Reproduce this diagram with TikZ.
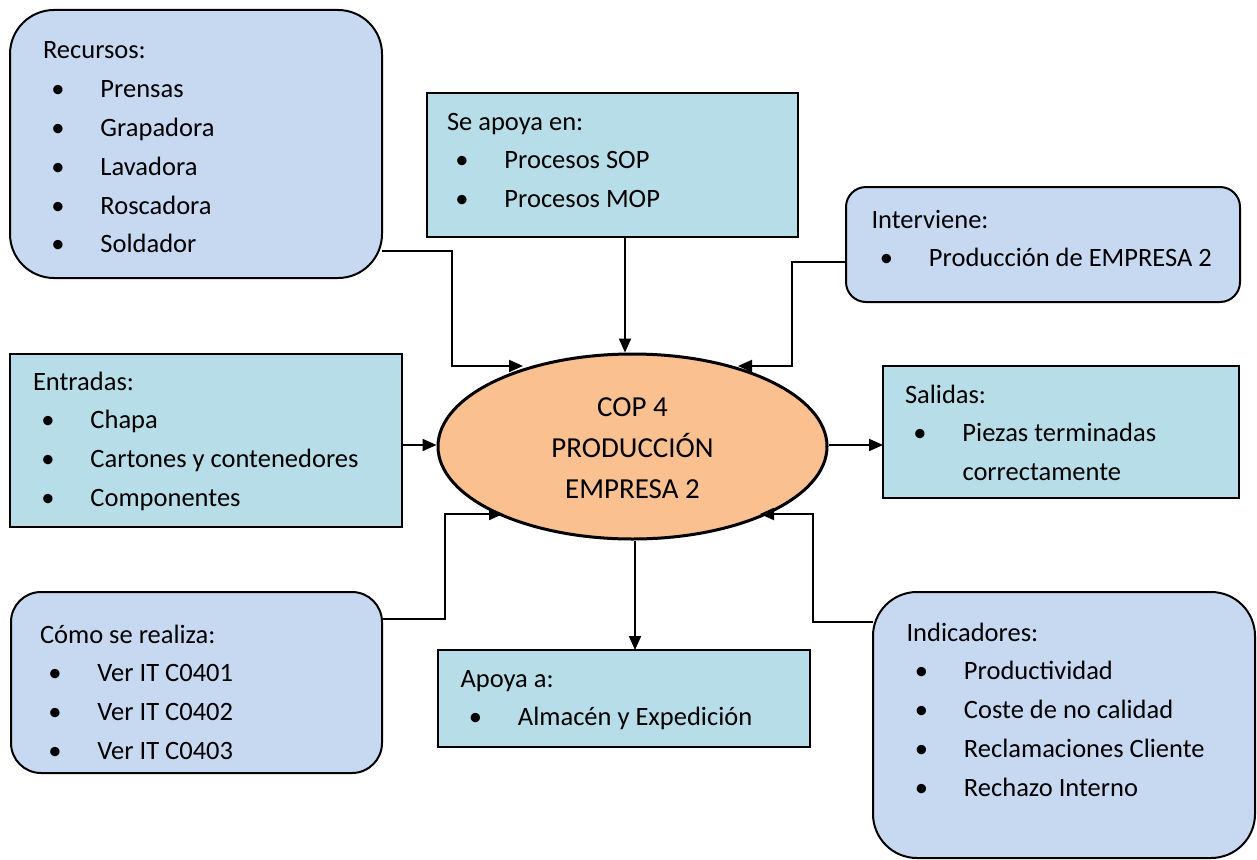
\documentclass[tikz,border=0pt]{standalone}
\usepackage{fontspec}
\setmainfont{Carlito}
\usetikzlibrary{arrows.meta,shapes.geometric,calc,fit}

\definecolor{aquafill}{HTML}{B7DDE8}
\definecolor{bluefill}{HTML}{C6D9F1}
\definecolor{orangefill}{HTML}{FAC090}

% bullet item with hanging indent
\newcommand\itm{\makebox[57.5pt][l]{\hspace{15pt}\makebox[0pt]{\textbullet}}}
\newcommand\hang{\hspace{57.5pt}}

\begin{document}
\begin{tikzpicture}[x=1pt,y=-1pt,
  sqbox/.style={draw=black, line width=2pt, fill=aquafill, inner sep=0pt, outer sep=0pt},
  rbox/.style={draw=black, line width=2pt, fill=bluefill, inner sep=0pt, outer sep=0pt},
  core/.style={ellipse, draw=black, line width=3pt, fill=orangefill, inner sep=0pt,
    align=center, font=\fontsize{29}{41}\selectfont},
  listtext/.style={anchor=base west, inner sep=0pt, outer sep=0pt,
    font=\fontsize{26.5}{38.8}\selectfont},
  conn/.style={line width=2pt, -{Triangle[length=14pt,width=12pt]}}
]
\useasboundingbox (0,0) rectangle (1257,859);

% boxes
\node[rbox, rounded corners=44pt, fit={(10,10) (382,278)}] (rec) {};
\node[sqbox, fit={(427,93) (798,237)}] (sop) {};
\node[rbox, rounded corners=20pt, fit={(846,187) (1240,302)}] (int) {};
\node[sqbox, fit={(10,354) (402,527)}] (ent) {};
\node[sqbox, fit={(883,366) (1239,498)}] (sal) {};
\node[rbox, rounded corners=30pt, fit={(11,592) (382,773)}] (como) {};
\node[sqbox, fit={(438,650) (810,747)}] (apo) {};
\node[rbox, rounded corners=44pt, fit={(873,592) (1255,858)}] (ind) {};

% central process
\node[core, minimum width=389pt, minimum height=185pt] (cop) at (632.5,446.5)
  {\rule{0pt}{23pt}COP 4\\PRODUCCIÓN\\EMPRESA 2};

% lists
\node[listtext] (rec-t) at (43,59) {\begin{tabular}[t]{@{}l@{}}
  Recursos:\\ \itm Prensas\\ \itm Grapadora\\ \itm Lavadora\\ \itm Roscadora\\ \itm Soldador
\end{tabular}};
\node[listtext] (sop-t) at (447,130) {\begin{tabular}[t]{@{}l@{}}
  Se apoya en:\\ \itm Procesos SOP\\ \itm Procesos MOP
\end{tabular}};
\node[listtext] (int-t) at (871.5,228) {\begin{tabular}[t]{@{}l@{}}
  Interviene:\\ \itm Producción de EMPRESA 2
\end{tabular}};
\node[listtext] (ent-t) at (33,390) {\begin{tabular}[t]{@{}l@{}}
  Entradas:\\ \itm Chapa\\ \itm Cartones y contenedores\\ \itm Componentes
\end{tabular}};
\node[listtext] (sal-t) at (905,403) {\begin{tabular}[t]{@{}l@{}}
  Salidas:\\ \itm Piezas terminadas\\ \hang correctamente
\end{tabular}};
\node[listtext] (como-t) at (40,643) {\begin{tabular}[t]{@{}l@{}}
  Cómo se realiza:\\ \itm Ver IT C0401\\ \itm Ver IT C0402\\ \itm Ver IT C0403
\end{tabular}};
\node[listtext] (apo-t) at (460.5,687) {\begin{tabular}[t]{@{}l@{}}
  Apoya a:\\ \itm Almacén y Expedición
\end{tabular}};
\node[listtext] (ind-t) at (906.5,641) {\begin{tabular}[t]{@{}l@{}}
  Indicadores:\\ \itm Productividad\\ \itm Coste de no calidad\\ \itm Reclamaciones Cliente\\ \itm Rechazo Interno
\end{tabular}};

% connectors
\draw[conn] (rec.east |- 0,251) -| (452,366) -- ($(cop.center)+(-109.5,-80.5)$);
\draw[conn] (sop.south -| 625,0) -- (cop.north -| 625,0);
\draw[conn] (int.west |- 0,262) -| (792,366) -- ($(cop.center)+(105.5,-80.5)$);
\draw[conn] (ent.east |- 0,445) -- (cop.west |- 0,445);
\draw[conn] (cop.east |- 0,445) -- (sal.west |- 0,445);
\draw[conn] (como.east |- 0,619) -| (445,514) -- ($(cop.center)+(-129.5,67.5)$);
\draw[conn] (cop.south -| 635,0) -- (apo.north -| 635,0);
\draw[conn] (ind.west |- 0,622) -| (813,514) -- ($(cop.center)+(127.5,67.5)$);
\end{tikzpicture}
\end{document}
